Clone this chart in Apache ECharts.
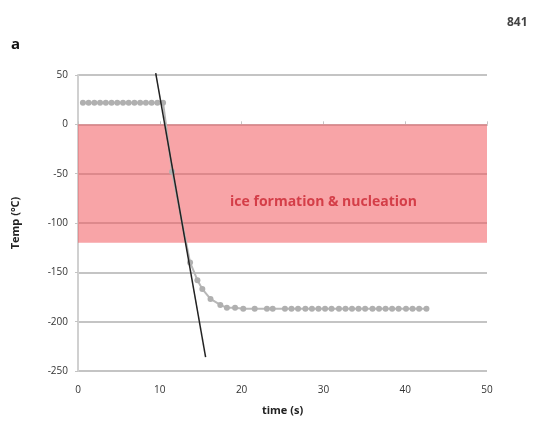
<!DOCTYPE html>
<html>
<head>
<meta charset="utf-8">
<script src="https://cdn.jsdelivr.net/npm/echarts@6/dist/echarts.min.js"></script>
<style>html,body{margin:0;padding:0;background:#fff;}#c{width:558px;height:428px;}</style>
</head>
<body>
<div id="c"></div>
<script>
// Measured temperature (gray series): [time s, temp °C]
var tempTime = [0.6,1.3,2.0,2.7,3.4,4.1,4.8,5.5,6.2,6.9,7.6,8.3,9.0,9.7,10.4,
  11.5,13.7,14.6,15.2,16.2,17.4,18.2,19.2,20.2,21.6,23.1,23.8,
  25.3,26.1,26.9,27.8,28.6,29.4,30.2,31.0,31.9,32.7,33.5,34.3,35.1,36.0,36.8,37.6,38.4,39.2,40.1,40.9,41.7,42.6];
var tempValue = [22,22,22,22,22,22,22,22,22,22,22,22,22,22,22,
  -48,-140,-158,-167,-177,-183,-186,-186,-187,-187,-187,-187,
  -187,-187,-187,-187,-187,-187,-187,-187,-187,-187,-187,-187,-187,-187,-187,-187,-187,-187,-187,-187,-187,-187];
// Cooling-rate fit line (black)
var fitTime = [9.5, 15.6];
var fitValue = [52, -236];
// Ice formation band
var bandTop = 0, bandBottom = -120;
var bandLabel = 'ice formation & nucleation';
var xTicks = {min: 0, max: 50, interval: 10};
var yTicks = {min: -250, max: 50, interval: 50};

function pairs(xs, ys){ return xs.map(function(x,i){ return [x, ys[i]]; }); }

var chart = echarts.init(document.getElementById('c'), null, {renderer: 'canvas'});
var font = 'Open Sans, Liberation Sans, sans-serif';
chart.setOption({
  animation: false,
  backgroundColor: '#fff',
  grid: {left: 78, right: 71, top: 75, bottom: 57},
  graphic: [
    {type: 'text', left: 11, top: 37, style: {text: 'a', font: 'bold 15px ' + font, fill: '#111'}},
    {type: 'text', left: 507, top: 17, style: {text: '841', font: 'bold 12px ' + font, fill: '#444'}}
  ],
  xAxis: {
    type: 'value', min: xTicks.min, max: xTicks.max, interval: xTicks.interval,
    name: 'time (s)', nameLocation: 'middle', nameGap: 34,
    nameTextStyle: {fontFamily: font, fontWeight: 'bold', fontSize: 11, color: '#222'},
    axisLine: {show: true, lineStyle: {color: '#c4c4c4', width: 2}},
    axisTick: {show: true, length: 3, inside: true, lineStyle: {color: '#c4c4c4'}},
    axisLabel: {margin: 14, fontFamily: font, fontSize: 10, color: '#333'},
    splitLine: {show: false}
  },
  yAxis: {
    type: 'value', min: yTicks.min, max: yTicks.max, interval: yTicks.interval,
    name: 'Temp (°C)', nameLocation: 'middle', nameGap: 57, nameRotate: 90,
    nameTextStyle: {fontFamily: font, fontWeight: 'bold', fontSize: 11, color: '#222'},
    axisLine: {show: true, lineStyle: {color: '#d0d0d0', width: 2}},
    axisTick: {show: true, length: 3, lineStyle: {color: '#c4c4c4'}},
    axisLabel: {margin: 10, fontFamily: font, fontSize: 10, color: '#333'},
    splitLine: {show: true, lineStyle: {color: '#c4c4c4', width: 2}}
  },
  series: [
    {
      type: 'line', name: 'temp', data: pairs(tempTime, tempValue),
      symbol: 'circle', symbolSize: 6, showSymbol: true,
      lineStyle: {color: '#b8b8b8', width: 2},
      itemStyle: {color: '#b0b0b0'},
      markArea: {
        silent: true,
        itemStyle: {color: 'rgba(242,90,95,0.55)'},
        label: {show: true, position: 'inside', offset: [41, 18], color: '#d43e48',
          fontFamily: font, fontWeight: 'bold', fontSize: 14},
        data: [[{yAxis: bandTop, name: bandLabel}, {yAxis: bandBottom}]]
      },
      z: 3
    },
    {
      type: 'line', name: 'fit', data: pairs(fitTime, fitValue),
      symbol: 'none', clip: false,
      lineStyle: {color: '#222', width: 1.5},
      z: 4
    }
  ]
});
</script>
</body>
</html>
